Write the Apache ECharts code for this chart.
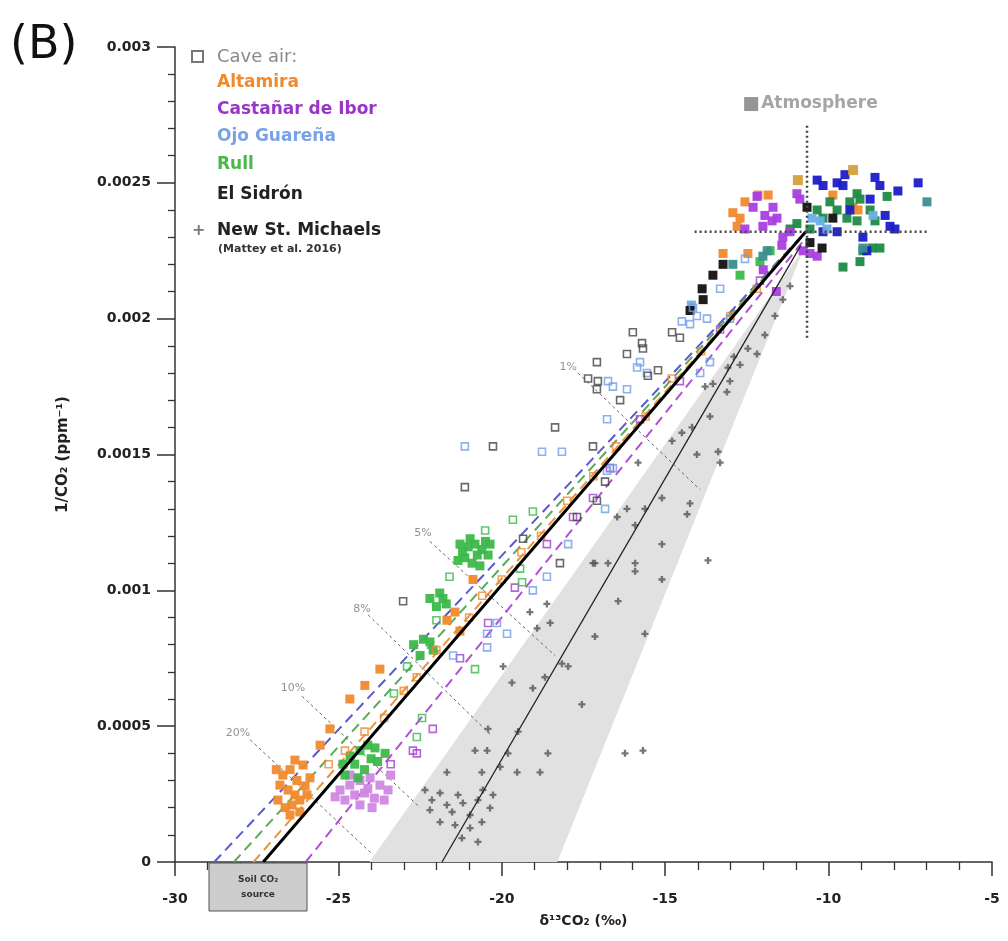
<!DOCTYPE html>
<html><head><meta charset="utf-8">
<script src="https://cdn.jsdelivr.net/npm/echarts@6/dist/echarts.min.js"></script>
<style>html,body{margin:0;padding:0;background:#fff}#c{width:1008px;height:941px}</style>
</head><body><div id="c"></div>
<script>
// ---- axes ----
const xTickValues = [-30, -25, -20, -15, -10, -5];
const xTickLabels = ['-30', '-25', '-20', '-15', '-10', '-5'];
const yTickValues = [0, 0.0005, 0.001, 0.0015, 0.002, 0.0025, 0.003];
const yTickLabels = ['0', '0.0005', '0.001', '0.0015', '0.002', '0.0025', '0.003'];

// ---- reference lines / areas (data units) ----
const bandVertices = [[-24.05, 0], [-18.3, 0], [-10.75, 0.00226]];
const thickLine = [[-27.3, 0], [-10.7, 0.00232]];
const thinLine = [[-21.83, 0], [-10.85, 0.00227]];
const dashBlue = [[-28.8, 0], [-10.7, 0.00232]];
const dashGreen = [[-28.2, 0], [-10.7, 0.00232]];
const dashOrange = [[-27.6, 0], [-10.7, 0.00232]];
const dashPurple = [[-26.0, 0], [-10.75, 0.00229]];
const atmH = [[-14.1, 0.00232], [-7.0, 0.00232]];
const atmV = [[-10.66, 0.00271], [-10.66, 0.00192]];
const atmLabelPos = [[-12.37, 0.00279]];
const pctNames = ['1%', '5%', '8%', '10%', '20%'];
const pctStart = [[-17.67, 0.00180], [-22.2, 0.00118], [-24.09, 0.00091], [-26.11, 0.00061], [-27.7, 0.00045]];
const pctEnd = [[-13.93, 0.00137], [-18.37, 0.00076], [-20.36, 0.00047], [-22.5, 0.00020], [-23.97, 0.00003]];
const pctLabelPos = [[-17.97, 0.00182], [-22.41, 0.00121], [-24.28, 0.00093], [-26.39, 0.00064], [-28.07, 0.000475]];
const soilBoxX = [-28.96, -25.96];

// ---- data ----
const nsm = [
 [-13.69,0.00111],[-15.10,0.00104],[-15.62,0.00084],[-16.23,0.00040],[-15.68,0.00041],[-17.55,0.00058],[-17.15,0.00083],[-16.44,0.00096],
 [-17.15,0.00110],[-16.75,0.00110],[-15.92,0.00110],[-15.92,0.00107],[-15.10,0.00117],[-16.47,0.00127],[-16.17,0.00130],[-15.92,0.00124],
 [-15.62,0.00130],[-15.83,0.00147],[-15.10,0.00134],[-14.24,0.00132],[-14.33,0.00128],[-14.03,0.00150],[-13.38,0.00151],[-13.32,0.00147],
 [-14.79,0.00155],[-14.49,0.00158],[-14.18,0.00160],[-13.63,0.00164],[-13.78,0.00175],[-13.54,0.00176],[-13.11,0.00173],[-13.02,0.00177],
 [-13.08,0.00182],[-12.71,0.00183],[-12.47,0.00189],
 [-18.59,0.00040],[-18.83,0.00033],[-19.50,0.00048],[-19.53,0.00033],[-19.69,0.00066],[-19.05,0.00064],[-19.96,0.00072],[-18.68,0.00068],
 [-18.16,0.00073],[-17.97,0.00072],[-18.52,0.00088],[-18.92,0.00086],[-19.14,0.00092],[-18.62,0.00095],[-17.21,0.00110],[-20.82,0.00041],
 [-20.45,0.00041],[-20.42,0.00049],[-20.61,0.00033],[-21.68,0.00033],[-19.81,0.00040],[-20.05,0.00035],
 [-22.35,0.000265],[-22.14,0.000228],[-21.89,0.000254],[-21.68,0.00021],[-21.52,0.000184],[-21.34,0.000247],[-21.19,0.000217],[-20.97,0.000173],
 [-20.73,0.000228],[-20.58,0.000265],[-20.36,0.000199],[-21.43,0.000136],[-20.97,0.000125],[-20.61,0.000147],[-21.89,0.000147],[-22.20,0.000191],
 [-20.27,0.000247],[-21.22,0.000088],[-20.73,0.000074],
 [-11.95,0.00194],[-11.64,0.00201],[-11.40,0.00207],[-11.18,0.00212],[-12.19,0.00187],[-12.90,0.00186]
];
const altamiraFilled = [
 [-26.70,0.00032],[-26.48,0.00034],[-26.27,0.00030],[-26.02,0.00028],[-26.54,0.000265],[-26.33,0.000247],[-26.18,0.000228],[-26.42,0.00021],
 [-26.63,0.00020],[-26.18,0.000184],[-25.96,0.000247],[-25.87,0.00031],[-26.79,0.000283],[-26.33,0.000375],[-26.08,0.000357],[-26.85,0.000228],
 [-26.48,0.000173],[-26.90,0.00034],
 [-21.68,0.00089],[-21.43,0.00092],[-21.28,0.00085],[-20.88,0.00104],[-24.65,0.00060],[-24.19,0.00065],[-23.73,0.00071],[-25.26,0.00049],[-25.56,0.00043],
 [-12.93,0.00239],[-12.71,0.00237],[-12.80,0.00234],[-12.56,0.00243],[-11.85,0.002455],[-9.87,0.002455],[-9.25,0.00241],[-9.10,0.00240],
 [-13.23,0.00224],[-12.47,0.00224],[-12.16,0.002455]
];
const altamiraOpen = [
 [-25.3,0.00036],[-24.8,0.00041],[-24.2,0.00048],[-23.6,0.00053],[-23.0,0.00063],[-22.6,0.00068],[-22.0,0.00078],[-21.0,0.00090],
 [-20.6,0.00098],[-20.0,0.00104],[-19.4,0.00114],[-18.8,0.00120],[-18.0,0.00133],[-17.2,0.00142],[-16.5,0.00153],[-15.6,0.00164],
 [-14.8,0.00178],[-13.9,0.00188],[-13.0,0.00201],[-12.2,0.00211]
];
const ochre = [[-10.94,0.00251],[-9.25,0.002547]];
const castanarOpen = [
 [-22.72,0.00041],[-22.60,0.00040],[-22.11,0.00049],[-21.28,0.00075],[-20.42,0.00088],[-18.62,0.00117],[-17.82,0.00127],[-17.21,0.00134],
 [-16.69,0.00145],[-15.77,0.00163],[-14.55,0.00177],[-13.32,0.00196],[-12.10,0.00214],[-19.60,0.00101],[-23.40,0.00036]
];
const castanarBlob = [
 [-24.95,0.000265],[-24.65,0.000283],[-24.34,0.00030],[-24.03,0.00031],[-23.73,0.000283],[-23.48,0.000265],[-24.80,0.000228],[-24.50,0.000247],
 [-24.20,0.000254],[-23.90,0.000235],[-23.60,0.000228],[-24.34,0.00021],[-23.97,0.00020],[-24.65,0.00032],[-23.40,0.00032],[-25.10,0.00024],[-24.10,0.00027]
];
const castanarFilled = [
 [-12.19,0.00245],[-12.31,0.00241],[-11.70,0.00241],[-11.58,0.00237],[-11.73,0.00236],[-10.97,0.00246],[-10.88,0.00244],[-11.18,0.00232],
 [-11.40,0.00230],[-11.43,0.00227],[-10.78,0.00225],[-10.57,0.00224],[-10.35,0.00223],[-12.01,0.00234],[-11.95,0.00238],[-12.56,0.00233],
 [-12.00,0.00218],[-11.60,0.00210]
];
const ojoOpen = [
 [-15.77,0.00184],[-15.56,0.00180],[-15.86,0.00182],[-16.60,0.00175],[-16.17,0.00174],[-16.75,0.00177],[-16.78,0.00163],[-18.77,0.00151],
 [-18.16,0.00151],[-16.78,0.00144],[-16.60,0.00145],[-16.84,0.00130],[-18.62,0.00105],[-19.05,0.00100],[-17.97,0.00117],[-19.84,0.00084],
 [-20.45,0.00084],[-20.45,0.00079],[-21.49,0.00076],[-20.15,0.00088],[-13.93,0.00180],[-13.63,0.00184],[-14.49,0.00199],[-14.24,0.00198],
 [-14.03,0.00201],[-13.02,0.00200],[-21.13,0.00153],[-14.15,0.00204],[-13.72,0.00200],[-13.32,0.00211],[-12.56,0.00222]
];
const ojoFilled = [[-10.51,0.00237],[-10.26,0.00236],[-10.05,0.00233],[-8.64,0.00238],[-14.20,0.00205]];
const rullOpen = [
 [-19.05,0.00129],[-19.66,0.00126],[-20.51,0.00122],[-19.38,0.00103],[-20.82,0.00071],[-19.44,0.00108],[-21.60,0.00105],[-22.90,0.00072],
 [-23.30,0.00062],[-22.00,0.00089],[-22.44,0.00053],[-22.60,0.00046]
];
const rullFilled = [
 [-21.28,0.00117],[-21.03,0.00116],[-20.82,0.00117],[-20.61,0.00115],[-20.42,0.00113],[-21.13,0.00112],[-20.91,0.00110],[-20.67,0.00109],
 [-21.34,0.00111],[-20.36,0.00117],[-20.97,0.00119],[-21.20,0.00114],[-20.75,0.00113],[-20.50,0.00118],
 [-22.20,0.00097],[-21.90,0.00099],[-21.70,0.00095],[-22.00,0.00094],[-21.80,0.00097],
 [-22.70,0.00080],[-22.40,0.00082],[-22.10,0.00078],[-22.50,0.00076],[-22.20,0.00081],
 [-24.86,0.00036],[-24.64,0.00039],[-24.34,0.00041],[-24.10,0.00043],[-23.88,0.00042],[-23.57,0.00040],[-24.50,0.00036],[-24.20,0.00034],
 [-23.80,0.00037],[-24.80,0.00032],[-24.00,0.00038],[-24.40,0.00031],
 [-12.10,0.00221],[-11.79,0.00225],[-12.71,0.00216]
];
const rullOutside = [
 [-9.13,0.00246],[-9.04,0.00244],[-8.21,0.00245],[-9.96,0.00243],[-9.74,0.00240],[-9.44,0.00237],[-9.35,0.00243],[-9.13,0.00236],
 [-10.17,0.00237],[-10.57,0.00233],[-8.73,0.00240],[-8.58,0.00236],[-9.56,0.00219],[-8.95,0.00225],[-8.67,0.00226],[-10.35,0.00240],
 [-10.97,0.00235],[-11.18,0.00233],[-8.43,0.00226],[-9.04,0.00221]
];
const sidronOpen = [
 [-15.99,0.00195],[-15.71,0.00191],[-15.68,0.00189],[-16.17,0.00187],[-14.79,0.00195],[-14.55,0.00193],[-17.09,0.00184],[-17.36,0.00178],
 [-17.06,0.00177],[-17.09,0.00174],[-16.38,0.00170],[-15.22,0.00181],[-15.53,0.00179],[-18.37,0.00160],[-20.27,0.00153],[-21.13,0.00138],
 [-17.21,0.00153],[-16.84,0.00140],[-17.09,0.00133],[-17.70,0.00127],[-18.22,0.00110],[-23.02,0.00096],[-19.35,0.00119]
];
const sidronFilled = [
 [-10.66,0.00241],[-9.87,0.00237],[-10.20,0.00226],[-10.57,0.00228],[-13.54,0.00216],[-13.87,0.00211],[-13.84,0.00207],[-13.23,0.00220],[-14.24,0.00203]
];
const darkBlue = [
 [-10.35,0.00251],[-10.17,0.00249],[-9.74,0.00250],[-9.50,0.00253],[-9.56,0.00249],[-8.58,0.00252],[-8.43,0.00249],[-7.88,0.00247],
 [-7.26,0.00250],[-8.73,0.00244],[-8.27,0.00238],[-8.12,0.00234],[-7.97,0.00233],[-9.74,0.00232],[-8.95,0.00230],[-8.83,0.00225],
 [-10.17,0.00232],[-9.35,0.00240]
];
const teal = [[-11.88,0.00225],[-12.01,0.00223],[-12.93,0.00220],[-8.95,0.00226],[-6.99,0.00243]];

const chart = echarts.init(document.getElementById('c'), null, {renderer: 'canvas'});
const FONT = 'DejaVu Sans';

function lineSeries(data, color, width, type, z) {
  return {type: 'line', data: data, symbol: 'none', silent: true, z: z, animation: false,
    lineStyle: {color: color, width: width, type: type}};
}
function openSq(data, color) {
  return {type: 'scatter', data: data, symbol: 'rect', symbolSize: 7, z: 4, silent: true,
    itemStyle: {color: 'rgba(255,255,255,0)', borderColor: color, borderWidth: 1.6}};
}
function fillSq(data, color, size) {
  return {type: 'scatter', data: data, symbol: 'rect', symbolSize: size || 9, z: 4, silent: true,
    itemStyle: {color: color, opacity: 0.95}};
}

const series = [
  {type: 'custom', z: 1, silent: true, data: bandVertices,
    renderItem: function (params, api) {
      if (params.dataIndex !== 0) return null;
      return {type: 'polygon', shape: {points: bandVertices.map(function (p) { return api.coord(p); })},
        style: {fill: '#e1e1e1'}};
    }},
  lineSeries(dashBlue, '#5a5ad0', 2, [10, 6], 2),
  lineSeries(dashGreen, '#5aaa5a', 2, [10, 6], 2),
  lineSeries(dashOrange, '#e8953e', 2, [10, 6], 2),
  lineSeries(dashPurple, '#b24fd6', 2, [10, 6], 2),
];
pctStart.forEach(function (s, i) {
  series.push(lineSeries([s, pctEnd[i]], '#666', 1, [3, 3], 3));
});
series.push(
  {type: 'scatter', data: nsm, z: 4, silent: true, symbol: 'path://M2,0H4V2H6V4H4V6H2V4H0V2H2Z', symbolSize: 7,
    itemStyle: {color: '#555'}},
  fillSq(castanarBlob, '#cf88e0', 9),
  fillSq(altamiraFilled, '#f08a2d', 9),
  fillSq(rullFilled, '#3cb84a', 9),
  fillSq(rullOutside, '#1f8a45', 9),
  fillSq(darkBlue, '#1b1bc8', 9),
  fillSq(castanarFilled, '#aa3ee0', 9),
  fillSq(ojoFilled, '#6aaee8', 9),
  fillSq(teal, '#3a8f8f', 9),
  fillSq(ochre, '#d4a03c', 10),
  fillSq(sidronFilled, '#111', 9),
  openSq(altamiraOpen, '#f08a2d'),
  openSq(castanarOpen, '#a040d0'),
  openSq(ojoOpen, '#6f9de8'),
  openSq(rullOpen, '#3cb84a'),
  openSq(sidronOpen, '#444'),
  lineSeries(thinLine, '#222', 1.3, 'solid', 5),
  lineSeries(thickLine, '#000', 3, 'solid', 5),
  lineSeries(atmH, '#444', 2.5, [2, 3], 6),
  lineSeries(atmV, '#444', 2.5, [2, 3], 6),
  {type: 'scatter', data: atmLabelPos, symbol: 'rect', symbolSize: 14, z: 6, silent: true,
    itemStyle: {color: '#7a7a7a'},
    label: {show: true, position: 'right', distance: 3, formatter: 'Atmosphere',
      fontFamily: FONT, fontWeight: 'bold', fontSize: 17, color: '#8e8e8e'}},
  {type: 'scatter', data: pctLabelPos.map(function (p, i) { return {value: p, name: pctNames[i]}; }),
    symbolSize: 0, z: 6, silent: true,
    label: {show: true, position: 'inside', formatter: '{b}', fontFamily: FONT, fontSize: 11, color: '#777'}}
);

function fmt(values, labels) {
  return function (v) {
    for (let i = 0; i < values.length; i++) if (Math.abs(values[i] - v) < 1e-9) return labels[i];
    return '';
  };
}

chart.setOption({
  animation: false,
  backgroundColor: '#fff',
  grid: {left: 175, right: 16, top: 47, bottom: 79},
  xAxis: {
    type: 'value', min: -30, max: -5, interval: 5,
    name: 'δ¹³CO₂ (‰)', nameLocation: 'middle', nameGap: 52,
    nameTextStyle: {fontFamily: FONT, fontWeight: 'bold', fontSize: 14, color: '#222'},
    axisLine: {show: true, onZero: false, lineStyle: {color: '#333', width: 1.5}},
    axisTick: {show: true, length: 14, lineStyle: {color: '#333', width: 1.5}},
    minorTick: {show: true, splitNumber: 5, length: 8, lineStyle: {color: '#333', width: 1.3}},
    splitLine: {show: false},
    axisLabel: {margin: 30, fontFamily: FONT, fontWeight: 'bold', fontSize: 14, color: '#222',
      formatter: fmt(xTickValues, xTickLabels)}
  },
  yAxis: {
    type: 'value', min: 0, max: 0.003, interval: 0.0005,
    name: '1/CO₂ (ppm⁻¹)', nameLocation: 'middle', nameGap: 104,
    nameTextStyle: {fontFamily: FONT, fontWeight: 'bold', fontSize: 15, color: '#222'},
    axisLine: {show: true, lineStyle: {color: '#333', width: 1.5}},
    axisTick: {show: true, length: 18, lineStyle: {color: '#333', width: 1.5}},
    minorTick: {show: true, splitNumber: 5, length: 7, lineStyle: {color: '#333', width: 1.3}},
    splitLine: {show: false},
    axisLabel: {margin: 24, fontFamily: FONT, fontWeight: 'bold', fontSize: 14, color: '#222',
      formatter: fmt(yTickValues, yTickLabels)}
  },
  series: series
});

// graphics: title tag, legend, soil source box
const pA = chart.convertToPixel({gridIndex: 0}, [soilBoxX[0], 0]);
const pB = chart.convertToPixel({gridIndex: 0}, [soilBoxX[1], 0]);
function txt(text, x, y, font, fill) {
  return {type: 'text', z: 10, silent: true,
    style: {text: text, x: x, y: y, font: font, fill: fill, textVerticalAlign: 'middle', verticalAlign: 'middle'}};
}
const legendFont = 'bold 17px "DejaVu Sans"';
chart.setOption({
  graphic: [
    txt('(B)', 10, 46, '46px "DejaVu Sans"', '#111'),
    {type: 'rect', z: 10, silent: true, shape: {x: 192, y: 51, width: 11, height: 11},
      style: {fill: '#fff', stroke: '#777', lineWidth: 2}},
    txt('Cave air:', 217, 57, '18px "DejaVu Sans"', '#8a8a8a'),
    txt('Altamira', 217, 83, legendFont, '#f08a2d'),
    txt('Castañar de Ibor', 217, 110, legendFont, '#9b35c9'),
    txt('Ojo Guareña', 217, 137, legendFont, '#79a2e6'),
    txt('Rull', 217, 165, legendFont, '#48b848'),
    txt('El Sidrón', 217, 195, legendFont, '#222'),
    txt('+', 192, 231, 'bold 16px "DejaVu Sans"', '#777'),
    txt('New St. Michaels', 217, 231, legendFont, '#222'),
    txt('(Mattey et al. 2016)', 218, 249, 'bold 11px "DejaVu Sans"', '#333'),
    {type: 'rect', z: 10, silent: true,
      shape: {x: pA[0], y: pA[1] + 1, width: pB[0] - pA[0], height: 48},
      style: {fill: '#cdcdcd', stroke: '#555', lineWidth: 1}},
    {type: 'text', z: 11, silent: true,
      style: {text: 'Soil CO₂\nsource', x: (pA[0] + pB[0]) / 2, y: pA[1] + 25,
        font: 'bold 9px "DejaVu Sans"', fill: '#333', lineHeight: 15,
        textAlign: 'center', align: 'center', textVerticalAlign: 'middle', verticalAlign: 'middle'}}
  ]
});
</script></body></html>
